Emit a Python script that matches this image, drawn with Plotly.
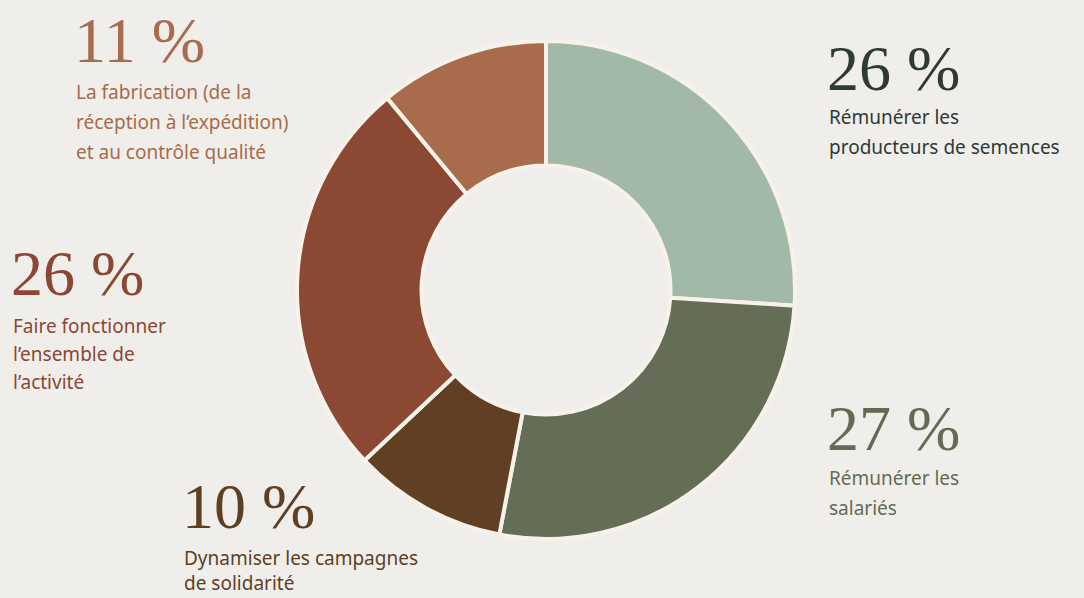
import plotly.graph_objects as go

labels = ["Rémunérer les producteurs de semences", "Rémunérer les salariés",
          "Dynamiser les campagnes de solidarité", "Faire fonctionner l’ensemble de l’activité",
          "La fabrication (de la réception à l’expédition) et au contrôle qualité"]
values = [26, 27, 10, 26, 11]
colors = ["#a3b9a8", "#646e57", "#603f22", "#8b4934", "#a86b4c"]
pct_text = ["26 %", "27 %", "10 %", "26 %", "11 %"]
pct_colors = ["#2e3a35", "#646b52", "#5e3f22", "#8b4733", "#a86b4b"]
label_lines = [["Rémunérer les", "producteurs de semences"],
               ["Rémunérer les", "salariés"],
               ["Dynamiser les campagnes", "de solidarité"],
               ["Faire fonctionner", "l’ensemble de", "l’activité"],
               ["La fabrication (de la", "réception à l’expédition)", "et au contrôle qualité"]]

W, H = 1084, 598
cx, cy, R = 546, 290, 249

fig = go.Figure(go.Pie(
    labels=labels, values=values, sort=False, direction="clockwise", rotation=0,
    hole=0.5, textinfo="none", hoverinfo="skip",
    marker=dict(colors=colors, line=dict(color="#f6f2ea", width=4)),
    domain=dict(x=[(cx - R) / W, (cx + R) / W], y=[(H - cy - R) / H, (H - cy + R) / H]),
))

# pixel anchors: left x, center y of the percentage, center y of first label line
anchors = [(826, 64, 117), (826, 424, 478), (181, 502, 558), (10, 270, 326), (73, 37, 92)]
line_gaps = [30, 30, 25, 28, 30]

annotations = []
for i, (x, ypct, yl) in enumerate(anchors):
    annotations.append(dict(
        x=x / W, y=1 - (ypct + 4) / H, xref="paper", yref="paper", xanchor="left", yanchor="middle",
        text=pct_text[i], showarrow=False, borderpad=0,
        font=dict(family="Liberation Serif", size=64, color=pct_colors[i])))
    for j, line in enumerate(label_lines[i]):
        annotations.append(dict(
            x=(x + 2) / W, y=1 - (yl + j * line_gaps[i]) / H, xref="paper", yref="paper",
            xanchor="left", yanchor="middle", text=line, showarrow=False, borderpad=0,
            font=dict(family="Noto Sans", size=19, color=pct_colors[i])))

fig.update_layout(
    width=W, height=H, margin=dict(l=0, r=0, t=0, b=0),
    paper_bgcolor="#f0eeeb", plot_bgcolor="#f0eeeb", showlegend=False,
    annotations=annotations,
)
fig.write_html("out.html", config={"displayModeBar": False},
               post_script="document.body.style.margin='0';document.body.style.overflow='hidden';")
